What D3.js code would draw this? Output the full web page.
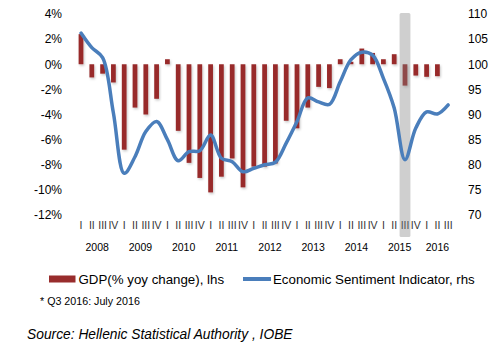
<!DOCTYPE html>
<html>
<head>
<meta charset="utf-8">
<script src="https://cdn.jsdelivr.net/npm/d3@7"></script>
<style>
  body { margin: 0; background: #fff; }
  svg { font-family: "Liberation Sans", Arial, sans-serif; }
</style>
</head>
<body>
<div id="chart"></div>
<script>
// Data (quarters 2008Q1 .. 2016Q3)
const years = ["2008", "2009", "2010", "2011", "2012", "2013", "2014", "2015", "2016"];
const quarterNames = ["I", "II", "III", "IV"];
const quarters = [];
years.forEach((y) => {
  quarterNames.forEach((q) => {
    if (!(y === "2016" && q === "IV")) quarters.push(y + "Q" + q);
  });
});

// GDP % yoy change (lhs), no value yet for 2016 Q3
const gdp = [
  2.4, -1.05, -0.75, -1.45,
  -6.8, -3.45, -4.0, -2.75,
  0.4, -5.3, -7.85, -9.05,
  -10.2, -8.95, -7.5, -9.8,
  -8.15, -8.15, -7.9, -4.5,
  -5.1, -3.45, -1.8, -1.9,
  0.4, 0.2, 1.25, 0.9,
  0.4, 0.8, -1.7, -0.9,
  -1.0, -0.95,
];

// Economic Sentiment Indicator (rhs)
const esi = [
  106.2, 103.3, 101.3, 90.3,
  78.3, 81.6, 86.6, 88.6,
  85.0, 80.8, 82.6, 82.8,
  85.9, 81.3, 80.6, 78.6,
  79.3, 80.0, 80.5, 84.3,
  88.6, 93.3, 92.5, 92.0,
  96.5, 100.9, 102.4, 101.8,
  97.2, 91.3, 81.0, 87.3,
  90.5, 90.1, 91.9,
];

const leftTicks = [4, 2, 0, -2, -4, -6, -8, -10, -12];
const rightTicks = [110, 105, 100, 95, 90, 85, 80, 75, 70];
const highlightQuarter = "2015QIII";

const width = 496;
const height = 353;

const svg = d3
  .select("#chart")
  .append("svg")
  .attr("width", width)
  .attr("height", height);

const defs = svg.append("defs");
const shadow = defs.append("filter").attr("id", "shadow")
  .attr("x", "-50%").attr("y", "-10%").attr("width", "200%").attr("height", "130%");
shadow.append("feDropShadow")
  .attr("dx", 1).attr("dy", 1.5).attr("stdDeviation", 0.8)
  .attr("flood-color", "#000").attr("flood-opacity", 0.22);

const xScale = d3
  .scaleBand()
  .domain(quarters)
  .range([75.6, 453.6])
  .paddingInner(0.56)
  .paddingOuter(0.28);

const yLeft = d3.scaleLinear().domain([-12, 4]).range([215, 14]);
const yRight = d3.scaleLinear().domain([70, 110]).range([215, 14]);
const cx = (q) => xScale(q) + xScale.bandwidth() / 2;

// Left axis
const yAxisL = svg
  .append("g")
  .attr("transform", "translate(66, 0)")
  .call(d3.axisLeft(yLeft).tickValues(leftTicks).tickSize(0).tickPadding(4).tickFormat((d) => d + "%"));
yAxisL.select(".domain").remove();
yAxisL.selectAll("text").attr("font-size", 12).attr("fill", "#000").attr("font-family", null);

// Right axis
const yAxisR = svg
  .append("g")
  .attr("transform", "translate(464, 0)")
  .call(d3.axisRight(yRight).tickValues(rightTicks).tickSize(0).tickPadding(4));
yAxisR.select(".domain").remove();
yAxisR.selectAll("text").attr("font-size", 12).attr("fill", "#000").attr("font-family", null);

// Quarter labels
const xAxis = svg
  .append("g")
  .attr("transform", "translate(0, 222)")
  .call(d3.axisBottom(xScale).tickSize(0).tickPadding(0).tickFormat((d) => d.split("Q")[1]));
xAxis.select(".domain").remove();
xAxis.selectAll("text").attr("font-size", 10.5).attr("fill", "#333").attr("font-family", null);

// Year labels centred under their quarters
svg
  .append("g")
  .selectAll("text")
  .data(years)
  .join("text")
  .attr("x", (y) => {
    const qs = quarters.filter((q) => q.startsWith(y));
    return (cx(qs[0]) + cx(qs[qs.length - 1])) / 2;
  })
  .attr("y", 251)
  .attr("text-anchor", "middle")
  .attr("font-size", 10.5)
  .attr("fill", "#000")
  .text((d) => d);

// GDP bars
svg
  .append("g")
  .attr("filter", "url(#shadow)")
  .selectAll("rect")
  .data(gdp)
  .join("rect")
  .attr("x", (d, i) => xScale(quarters[i]))
  .attr("width", xScale.bandwidth())
  .attr("y", (d) => yLeft(Math.max(0, d)))
  .attr("height", (d) => Math.abs(yLeft(d) - yLeft(0)))
  .attr("fill", "#982c2c");

// Highlight band (2015 Q3)
svg
  .append("rect")
  .attr("x", xScale(highlightQuarter) - (xScale.step() - xScale.bandwidth()) / 2)
  .attr("width", xScale.step())
  .attr("y", yLeft(4) - 1)
  .attr("height", yLeft(-12) - yLeft(4) + 23)
  .attr("rx", 1.5)
  .attr("fill", "#808080")
  .attr("opacity", 0.38);

// ESI line
const line = d3
  .line()
  .x((d, i) => cx(quarters[i]))
  .y((d) => yRight(d))
  .curve(d3.curveCatmullRom.alpha(0.5));

svg
  .append("path")
  .datum(esi)
  .attr("fill", "none")
  .attr("stroke", "#4a7ebb")
  .attr("stroke-width", 3.5)
  .attr("stroke-linecap", "round")
  .attr("stroke-linejoin", "round")
  .attr("d", line);

// Legend
const legend = svg.append("g").attr("font-size", 13.3).attr("fill", "#000");
legend.append("rect").attr("x", 49).attr("y", 275.5).attr("width", 26.5).attr("height", 7).attr("fill", "#982c2c");
legend.append("text").attr("x", 78.5).attr("y", 283.5).text("GDP(% yoy change), lhs");
legend.append("line").attr("x1", 243).attr("x2", 271).attr("y1", 279).attr("y2", 279)
  .attr("stroke", "#4a7ebb").attr("stroke-width", 4);
legend.append("text").attr("x", 273).attr("y", 283.5).text("Economic Sentiment Indicator, rhs");

// Footnote and source
svg.append("text").attr("x", 40).attr("y", 304.5).attr("font-size", 10.7).attr("fill", "#000")
  .text("* Q3 2016: July 2016");
svg.append("text").attr("x", 27).attr("y", 338.5).attr("font-size", 13.8).attr("font-style", "italic").attr("fill", "#000")
  .text("Source: Hellenic Statistical Authority , IOBE");
</script>
</body>
</html>
